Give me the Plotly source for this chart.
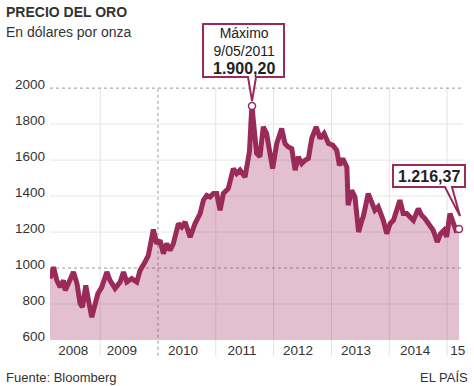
import plotly.graph_objects as go

# ---- data ----
dates = [
    "2008-02-19", "2008-03-12", "2008-04-02", "2008-04-23", "2008-05-14", "2008-05-25",
    "2008-06-15", "2008-07-16", "2008-08-07", "2008-08-27", "2008-09-11", "2008-10-02",
    "2008-10-19", "2008-11-09", "2008-11-25", "2008-12-17",
    "2009-01-11", "2009-02-12", "2009-03-04", "2009-04-05", "2009-05-07", "2009-05-28",
    "2009-06-18", "2009-07-19", "2009-08-20", "2009-09-10", "2009-10-11", "2009-11-01",
    "2009-12-03", "2009-12-24",
    "2010-01-14", "2010-02-04", "2010-02-25", "2010-03-18", "2010-04-08", "2010-05-10",
    "2010-05-31", "2010-06-21", "2010-07-23", "2010-08-23", "2010-09-24", "2010-10-15",
    "2010-11-05", "2010-11-26", "2010-12-17",
    "2011-01-07", "2011-01-28", "2011-02-18", "2011-03-21", "2011-04-22", "2011-05-13",
    "2011-06-03", "2011-07-05", "2011-07-26", "2011-08-02", "2011-08-12", "2011-08-18",
    "2011-08-26", "2011-09-05", "2011-09-16", "2011-10-07", "2011-10-28", "2011-11-18",
    "2011-12-09", "2011-12-26",
    "2012-01-21", "2012-02-21", "2012-03-13", "2012-04-03", "2012-04-25", "2012-05-16",
    "2012-06-06", "2012-06-27", "2012-07-18", "2012-08-08", "2012-08-29", "2012-09-26",
    "2012-10-21", "2012-11-15", "2012-12-13",
    "2013-01-09", "2013-02-03", "2013-02-20", "2013-03-13", "2013-03-28", "2013-04-08",
    "2013-04-16", "2013-05-08", "2013-05-29", "2013-06-21", "2013-07-10", "2013-07-20",
    "2013-08-21", "2013-09-12", "2013-10-02", "2013-10-23", "2013-11-24", "2013-12-16",
    "2014-01-06", "2014-01-27", "2014-02-17", "2014-03-09", "2014-03-30", "2014-04-21",
    "2014-05-12", "2014-06-02", "2014-07-03", "2014-07-24", "2014-08-14", "2014-09-15",
    "2014-10-05", "2014-10-31", "2014-11-21", "2014-12-12", "2014-12-29",
    "2015-01-19", "2015-02-09", "2015-02-26", "2015-03-17",
]
prices = [
    942, 1005, 931, 894, 931, 876,
    915, 978, 915, 803, 783, 903,
    820, 727, 783, 857,
    894, 978, 931, 887, 922, 978,
    922, 941, 922, 987, 1033, 1070,
    1214, 1136,
    1154, 1080, 1136, 1098, 1136, 1247,
    1228, 1256, 1172, 1247, 1303, 1377,
    1404, 1395, 1414,
    1414, 1321, 1414, 1442, 1553, 1525,
    1544, 1506, 1618, 1650, 1822, 1900.20,
    1822, 1748, 1637, 1618, 1785, 1748,
    1618, 1553,
    1692, 1776, 1692, 1673, 1664, 1544,
    1618, 1581, 1599, 1609, 1720, 1785,
    1720, 1748, 1692,
    1683, 1655, 1571, 1609, 1581, 1560,
    1349, 1432, 1395, 1200, 1260, 1284,
    1414, 1358, 1321, 1340, 1265, 1191,
    1247, 1265, 1321, 1377, 1303, 1303,
    1284, 1265, 1330, 1293, 1275, 1228,
    1210, 1145, 1191, 1210, 1173,
    1303, 1238, 1210, 1216.37,
]

y_ticks = [600, 800, 1000, 1200, 1400, 1600, 1800, 2000]
year_starts = ["2009-01-01", "2010-01-01", "2011-01-01", "2012-01-01",
               "2013-01-01", "2014-01-01", "2015-01-01"]
x_label_pos = ["2008-07-15", "2009-05-18", "2010-06-08", "2011-06-15",
               "2012-06-03", "2013-06-05", "2014-06-13", "2015-03-10"]
x_label_txt = ["2008", "2009", "2010", "2011", "2012", "2013", "2014", "15"]

peak_label = "Máximo<br>9/05/2011<br><span style='font-size:16px'><b>1.900,20</b></span>"
last_label = "<b>1.216,37</b>"

LINE = "#992a59"
FILL = "rgba(160,45,95,0.30)"
TXT = "#333333"
FONT = "Liberation Sans, Arial, sans-serif"

W, H = 474, 386
ML, MR, MT, MB = 50, 6, 4, 46
PW, PH = W - ML - MR, H - MT - MB

Y_MIN, Y_MAX = 600, 2467.6
X_MIN, X_MAX = "2008-02-19", "2015-05-13"


def px_x(px):
    return (px - ML) / PW


def px_y(py):
    return (H - MB - py) / PH


fig = go.Figure()
fig.add_trace(go.Scatter(
    x=dates, y=prices, mode="lines", fill="tozeroy",
    line=dict(color=LINE, width=5), fillcolor=FILL,
    hoverinfo="skip", showlegend=False,
))
peak_i = prices.index(max(prices))
fig.add_trace(go.Scatter(
    x=[dates[peak_i], dates[-1]], y=[prices[peak_i], prices[-1]], mode="markers",
    marker=dict(size=7, color="white", line=dict(color=LINE, width=1.5)),
    hoverinfo="skip", showlegend=False, cliponaxis=False,
))

shapes = []
for v in y_ticks[1:]:
    dashed = v in (1000, 2000)
    shapes.append(dict(type="line", xref="x", yref="y", x0=X_MIN, x1="2015-04-10",
                       y0=v, y1=v, layer="below",
                       line=dict(color="#9a9a9a" if dashed else "#e6e6e6",
                                 width=1, dash="dot" if dashed else "solid")))
top_frac = (2000 - Y_MIN) / (Y_MAX - Y_MIN)
for d in year_starts:
    dashed = d.startswith("2010")
    shapes.append(dict(type="line", xref="x", yref="paper", x0=d, x1=d,
                       y0=-0.047, y1=top_frac, layer="below",
                       line=dict(color="#9a9a9a" if dashed else "#e3e3e3",
                                 width=1, dash="dot" if dashed else "solid")))
shapes.append(dict(type="path", xref="x", yref="y", xsizemode="pixel", ysizemode="pixel",
                   xanchor=dates[peak_i], yanchor=prices[peak_i],
                   path="M -49,29 L -49,82 L 32,82 L 32,29 L 4,29 L 0,5 L -4,29 Z",
                   fillcolor="white", line=dict(color=LINE, width=2), layer="above"))
shapes.append(dict(type="path", xref="x", yref="y", xsizemode="pixel", ysizemode="pixel",
                   xanchor=dates[-1], yanchor=prices[-1],
                   path="M -66,42 L -66,64 L 6,64 L 6,42 L -7,42 L 1,13 L -14,42 Z",
                   fillcolor="white", line=dict(color=LINE, width=2), layer="above"))

annotations = [
    dict(x=dates[peak_i], y=prices[peak_i], xref="x", yref="y", text=peak_label,
         showarrow=False, xshift=-8.5, yshift=55, align="center",
         font=dict(family=FONT, size=14, color="#222")),
    dict(x=dates[-1], y=prices[-1], xref="x", yref="y", text=last_label,
         showarrow=False, xshift=-30, yshift=53, align="center",
         font=dict(family=FONT, size=16, color="#222")),
    dict(x=px_x(4), y=px_y(12), xref="paper", yref="paper", xanchor="left", yanchor="middle",
         text="<b>PRECIO DEL ORO</b>", showarrow=False,
         font=dict(family=FONT, size=14, color=TXT)),
    dict(x=px_x(4), y=px_y(32), xref="paper", yref="paper", xanchor="left", yanchor="middle",
         text="En dólares por onza", showarrow=False,
         font=dict(family=FONT, size=14, color=TXT)),
    dict(x=px_x(4), y=px_y(377), xref="paper", yref="paper", xanchor="left",
         yanchor="middle", text="Fuente: Bloomberg", showarrow=False,
         font=dict(family=FONT, size=13, color=TXT)),
    dict(x=px_x(470), y=px_y(377), xref="paper", yref="paper", xanchor="right",
         yanchor="middle", text="EL PAÍS", showarrow=False,
         font=dict(family=FONT, size=13, color=TXT)),
]

fig.update_layout(
    width=W, height=H,
    margin=dict(l=ML, r=MR, t=MT, b=MB),
    paper_bgcolor="white", plot_bgcolor="white",
    font=dict(family=FONT, size=13.5, color=TXT),
    shapes=shapes, annotations=annotations,
    xaxis=dict(range=[X_MIN, X_MAX], tickmode="array", tickvals=x_label_pos,
               ticktext=x_label_txt, showgrid=False, zeroline=False, showline=False,
               ticks="", tickfont=dict(size=13.5, color=TXT)),
    yaxis=dict(range=[Y_MIN, Y_MAX], tickmode="array", tickvals=y_ticks,
               showgrid=False, zeroline=False, showline=False, ticks="",
               ticklabelstandoff=4, ticklabelshift=-4,
               tickfont=dict(size=13.5, color=TXT)),
)

fig.write_html("out.html", config={"displayModeBar": False},
               post_script="document.body.style.margin='0';document.body.style.overflow='hidden';")
